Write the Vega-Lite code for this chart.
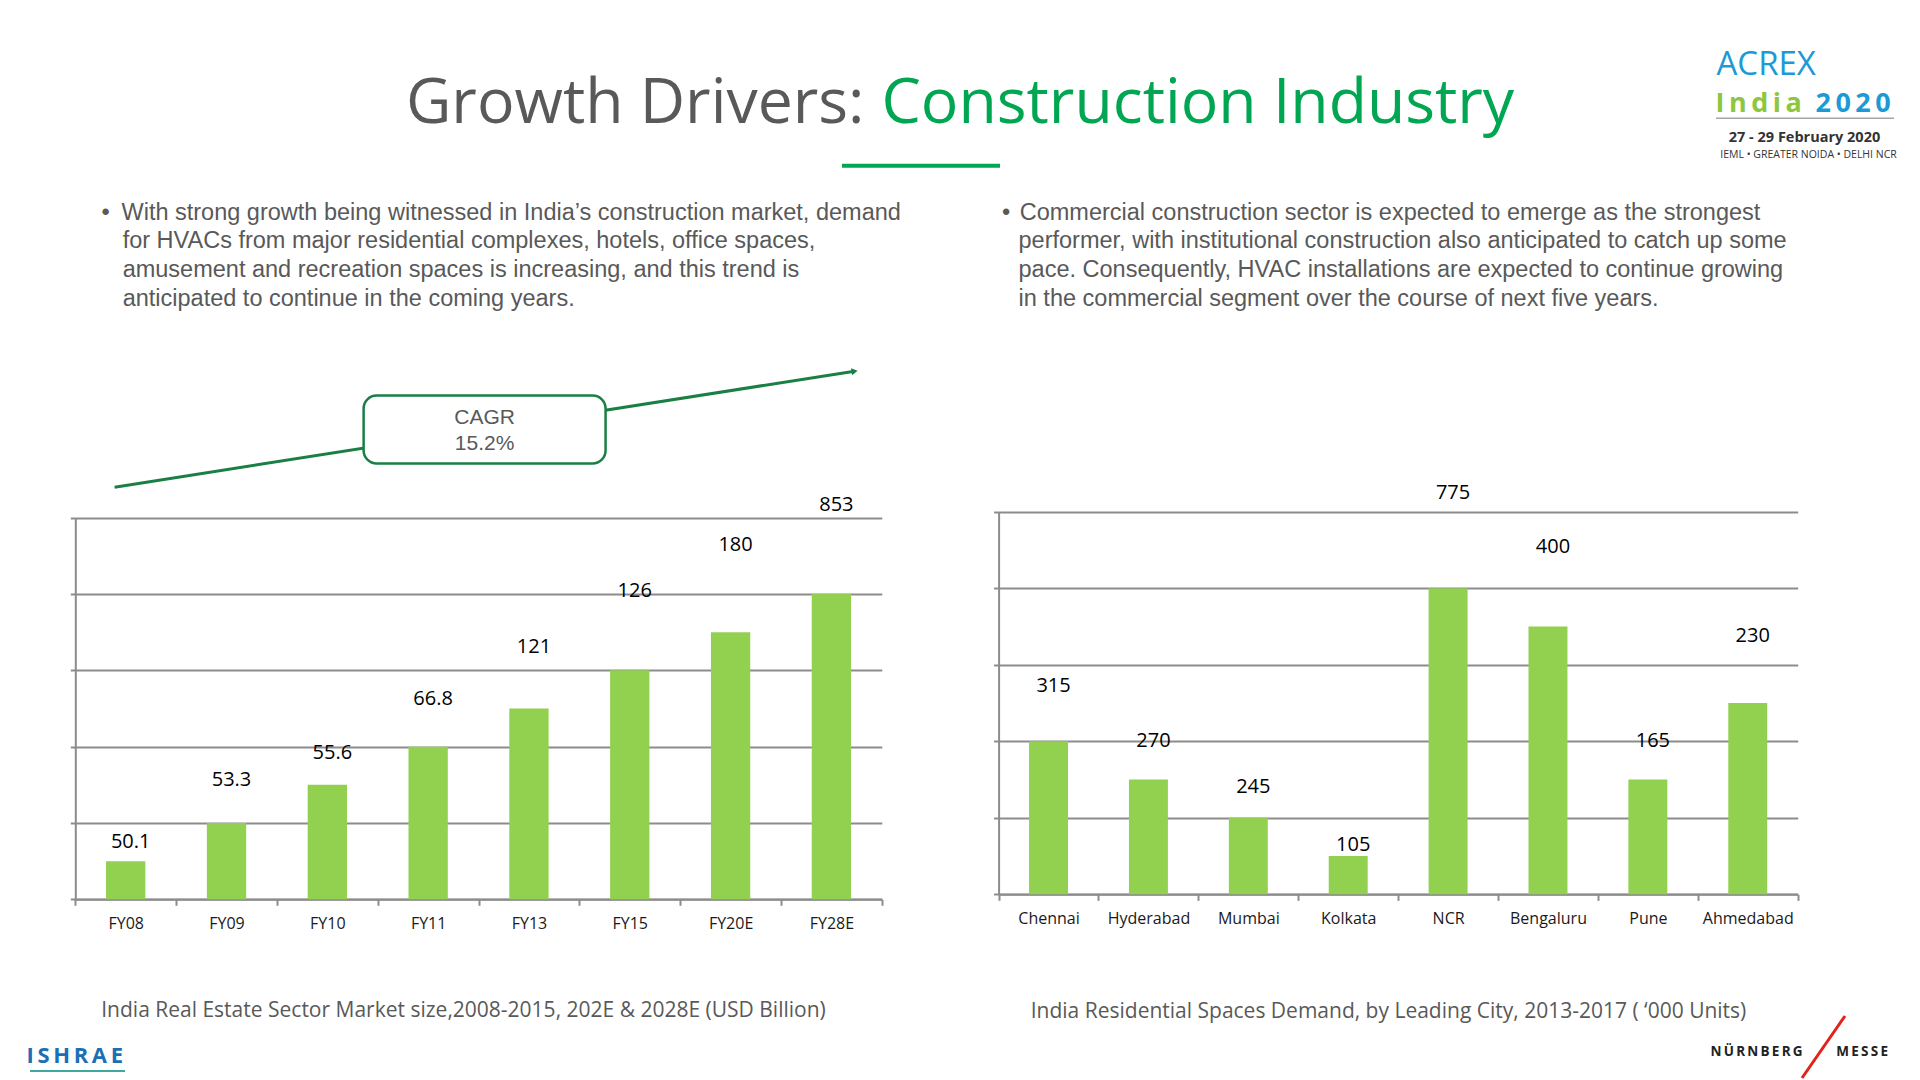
{
  "$schema": "https://vega.github.io/schema/vega-lite/v6.json",
  "width": 1920,
  "height": 1080,
  "autosize": {"type": "none"},
  "padding": 0,
  "background": "white",
  "config": {"view": {"stroke": null}, "axis": {"titleFontWeight": "normal", "titleLimit": 3000}},
  "resolve": {"scale": {"x": "independent", "y": "independent"}, "axis": {"x": "independent", "y": "independent"}},
  "layer": [
    {
      "data": {"values": [
        {"fiscal_year": "FY08", "bar_height": 0.5, "value_label": "50.1", "label_position": 0.75},
        {"fiscal_year": "FY09", "bar_height": 1.0, "value_label": "53.3", "label_position": 1.56},
        {"fiscal_year": "FY10", "bar_height": 1.5, "value_label": "55.6", "label_position": 1.92},
        {"fiscal_year": "FY11", "bar_height": 2.0, "value_label": "66.8", "label_position": 2.63},
        {"fiscal_year": "FY13", "bar_height": 2.5, "value_label": "121", "label_position": 3.30},
        {"fiscal_year": "FY15", "bar_height": 3.0, "value_label": "126", "label_position": 4.04},
        {"fiscal_year": "FY20E", "bar_height": 3.5, "value_label": "180", "label_position": 4.64},
        {"fiscal_year": "FY28E", "bar_height": 4.0, "value_label": "853", "label_position": 5.17}
      ]},
      "resolve": {"axis": {"y": "independent"}},
      "encoding": {
        "x": {
          "field": "fiscal_year", "type": "nominal", "sort": null,
          "scale": {"domain": ["FY08", "FY09", "FY10", "FY11", "FY13", "FY15", "FY20E", "FY28E"], "range": [75.3, 881.8], "paddingInner": 0, "paddingOuter": 0},
          "axis": {
            "orient": "bottom", "offset": -180.7, "tickBand": "extent", "tickSize": 6, "tickColor": "#8C8C8C", "tickWidth": 2,
            "domainColor": "#8C8C8C", "domainWidth": 2, "grid": false,
            "labelFont": "Open Sans", "labelFontSize": 16, "labelColor": "#1A1A1A", "labelPadding": 10, "labelAngle": 0,
            "title": "India Real Estate Sector Market size,2008-2015, 202E & 2028E (USD Billion)",
            "titleX": 463, "titleY": 110.7, "titleAlign": "center", "titleBaseline": "middle",
            "titleFont": "Open Sans", "titleFontSize": 21, "titleColor": "#595959"
          }
        }
      },
      "layer": [
        {
          "mark": {"type": "bar", "color": "#92D050", "width": {"band": 0.39}},
          "encoding": {
            "y": {
              "field": "bar_height", "type": "quantitative",
              "scale": {"domain": [0, 5], "range": [899.3, 517.7], "nice": false, "zero": true},
              "axis": {
                "orient": "left", "offset": -75.3, "values": [0, 1, 2, 3, 4, 5],
                "grid": true, "gridColor": "#8C8C8C", "gridWidth": 2,
                "domain": true, "domainColor": "#8C8C8C", "domainWidth": 2,
                "ticks": true, "tickSize": 5, "tickColor": "#8C8C8C", "tickWidth": 2, "labels": false,
                "title": [
                  "•\u2002With strong growth being witnessed in India’s construction market, demand",
                  "\u200B\u2002\u2009\u2009for HVACs from major residential complexes, hotels, office spaces,",
                  "\u200B\u2002\u2009\u2009amusement and recreation spaces is increasing, and this trend is",
                  "\u200B\u2002\u2009\u2009anticipated to continue in the coming years."
                ],
                "titleX": 25.7, "titleY": 219.3, "titleAngle": 0, "titleAlign": "left", "titleBaseline": "alphabetic",
                "titleFont": "Liberation Sans", "titleFontSize": 23.5, "titleColor": "#595959", "titleLineHeight": 28.7
              }
            }
          }
        },
        {
          "mark": {"type": "text", "font": "Open Sans", "fontSize": 20, "color": "#000000", "align": "center", "baseline": "middle", "dx": 5},
          "encoding": {
            "y": {"field": "label_position", "type": "quantitative", "scale": {"domain": [0, 5], "range": [899.3, 517.7], "nice": false, "zero": true}, "axis": null},
            "text": {"field": "value_label"}
          }
        }
      ]
    },
    {
      "data": {"values": [
        {"city": "Chennai", "bar_height": 2.0, "value_label": "315", "label_position": 2.72},
        {"city": "Hyderabad", "bar_height": 1.5, "value_label": "270", "label_position": 2.0},
        {"city": "Mumbai", "bar_height": 1.0, "value_label": "245", "label_position": 1.40},
        {"city": "Kolkata", "bar_height": 0.5, "value_label": "105", "label_position": 0.64},
        {"city": "NCR", "bar_height": 4.0, "value_label": "775", "label_position": 5.24},
        {"city": "Bengaluru", "bar_height": 3.5, "value_label": "400", "label_position": 4.54},
        {"city": "Pune", "bar_height": 1.5, "value_label": "165", "label_position": 2.0},
        {"city": "Ahmedabad", "bar_height": 2.5, "value_label": "230", "label_position": 3.38}
      ]},
      "resolve": {"axis": {"y": "independent"}},
      "encoding": {
        "x": {
          "field": "city", "type": "nominal", "sort": null,
          "scale": {"domain": ["Chennai", "Hyderabad", "Mumbai", "Kolkata", "NCR", "Bengaluru", "Pune", "Ahmedabad"], "range": [998.6, 1797.7], "paddingInner": 0, "paddingOuter": 0},
          "axis": {
            "orient": "bottom", "offset": -185.7, "tickBand": "extent", "tickSize": 6, "tickColor": "#8C8C8C", "tickWidth": 2,
            "domainColor": "#8C8C8C", "domainWidth": 2, "grid": false,
            "labelFont": "Open Sans", "labelFontSize": 16, "labelColor": "#1A1A1A", "labelPadding": 10, "labelAngle": 0,
            "title": "India Residential Spaces Demand, by Leading City, 2013-2017 ( ‘000 Units)",
            "titleX": 1388, "titleY": 116.7, "titleAlign": "center", "titleBaseline": "middle",
            "titleFont": "Open Sans", "titleFontSize": 21, "titleColor": "#595959"
          }
        }
      },
      "layer": [
        {
          "mark": {"type": "bar", "color": "#92D050", "width": {"band": 0.39}},
          "encoding": {
            "y": {
              "field": "bar_height", "type": "quantitative",
              "scale": {"domain": [0, 5], "range": [894.3, 511.7], "nice": false, "zero": true},
              "axis": {
                "orient": "left", "offset": -998.6, "values": [0, 1, 2, 3, 4, 5],
                "grid": true, "gridColor": "#8C8C8C", "gridWidth": 2,
                "domain": true, "domainColor": "#8C8C8C", "domainWidth": 2,
                "ticks": true, "tickSize": 5, "tickColor": "#8C8C8C", "tickWidth": 2, "labels": false,
                "title": [
                  "•\u2009\u2009Commercial construction sector is expected to emerge as the strongest",
                  "\u200B\u2002\u2009performer, with institutional construction also anticipated to catch up some",
                  "\u200B\u2002\u2009pace. Consequently, HVAC installations are expected to continue growing",
                  "\u200B\u2002\u2009in the commercial segment over the course of next five years."
                ],
                "titleX": 3, "titleY": 219.3, "titleAngle": 0, "titleAlign": "left", "titleBaseline": "alphabetic",
                "titleFont": "Liberation Sans", "titleFontSize": 23.5, "titleColor": "#595959", "titleLineHeight": 28.7
              }
            }
          }
        },
        {
          "mark": {"type": "text", "font": "Open Sans", "fontSize": 20, "color": "#000000", "align": "center", "baseline": "middle", "dx": 5},
          "encoding": {
            "y": {"field": "label_position", "type": "quantitative", "scale": {"domain": [0, 5], "range": [894.3, 511.7], "nice": false, "zero": true}, "axis": null},
            "text": {"field": "value_label"}
          }
        }
      ]
    },
    {
      "data": {"values": [{"annotation": "CAGR\n15.2%"}]},
      "layer": [
        {
          "mark": {"type": "rule", "color": "#1A7F45", "strokeWidth": 3},
          "encoding": {
            "x": {
              "datum": 0.39, "type": "quantitative", "scale": {"domain": [0, 8], "range": [75.3, 881.8], "nice": false, "zero": false},
              "axis": {"orient": "top", "offset": 0, "domain": false, "ticks": false, "labels": false, "grid": false,
                "title": "Growth Drivers:", "titleX": 864, "titleY": 122, "titleAlign": "right", "titleBaseline": "alphabetic", "titleAngle": 0,
                "titleFont": "Open Sans", "titleFontSize": 62.5, "titleColor": "#595959"}
            },
            "x2": {"datum": 7.73},
            "y": {
              "datum": 5.40, "type": "quantitative", "scale": {"domain": [0, 5], "range": [899.3, 517.7], "nice": false, "zero": false},
              "axis": {"orient": "left", "offset": 0, "domain": false, "ticks": false, "labels": false, "grid": false,
                "title": "Construction Industry", "titleX": 881, "titleY": 122, "titleAlign": "left", "titleBaseline": "alphabetic", "titleAngle": 0,
                "titleFont": "Open Sans", "titleFontSize": 62.5, "titleColor": "#00A651"}
            },
            "y2": {"datum": 6.92}
          }
        },
        {
          "mark": {"type": "point", "shape": "triangle-right", "filled": true, "color": "#1A7F45", "size": 50, "angle": 351, "opacity": 1},
          "encoding": {"x": {"datum": 7.73}, "y": {"datum": 6.92}}
        },
        {
          "mark": {"type": "rect", "fill": "white", "stroke": "#1A7F45", "strokeWidth": 2.5, "cornerRadius": 13},
          "encoding": {"x": {"datum": 2.86}, "x2": {"datum": 5.26}, "y": {"datum": 5.71}, "y2": {"datum": 6.60}}
        },
        {
          "mark": {"type": "text", "font": "Liberation Sans", "fontSize": 21, "color": "#595959", "lineBreak": "\n", "lineHeight": 26, "align": "center", "baseline": "middle"},
          "encoding": {"x": {"datum": 4.06}, "y": {"datum": 6.30}, "text": {"field": "annotation"}}
        }
      ]
    },
    {
      "data": {"values": [{"element": "title underline"}]},
      "mark": {"type": "rule", "color": "#00A651", "strokeWidth": 4},
      "encoding": {
        "x": {
          "datum": 0, "type": "quantitative", "scale": {"domain": [0, 1], "range": [842, 1000], "nice": false, "zero": false},
          "axis": {"orient": "top", "offset": 0, "domain": false, "ticks": false, "labels": false, "grid": false,
            "title": "27 - 29 February 2020", "titleX": 1804, "titleY": 141.7, "titleAlign": "center", "titleBaseline": "alphabetic", "titleAngle": 0,
            "titleFont": "Open Sans", "titleFontSize": 14.5, "titleFontWeight": "bold", "titleColor": "#333333"}
        },
        "x2": {"datum": 1},
        "y": {
          "datum": 0, "type": "quantitative", "scale": {"domain": [0, 1], "range": [165.7, 0], "nice": false, "zero": false},
          "axis": {"orient": "left", "offset": 0, "domain": false, "ticks": false, "labels": false, "grid": false,
            "title": "IEML • GREATER NOIDA • DELHI NCR", "titleX": 1808, "titleY": 157, "titleAlign": "center", "titleBaseline": "alphabetic", "titleAngle": 0,
            "titleFont": "Open Sans", "titleFontSize": 10.5, "titleColor": "#333333"}
        }
      }
    },
    {
      "data": {"values": [{"element": "NürnbergMesse slash"}]},
      "mark": {"type": "rule", "color": "#E2231A", "strokeWidth": 3},
      "encoding": {
        "x": {
          "datum": 0, "type": "quantitative", "scale": {"domain": [0, 1], "range": [1802, 1845], "nice": false, "zero": false},
          "axis": {"orient": "top", "offset": 0, "domain": false, "ticks": false, "labels": false, "grid": false,
            "title": "I\u2009S\u2009H\u2009R\u2009A\u2009E", "titleX": 26, "titleY": 1062, "titleAlign": "left", "titleBaseline": "alphabetic", "titleAngle": 0,
            "titleFont": "Open Sans", "titleFontSize": 22, "titleFontWeight": "bold", "titleColor": "#1B6FB5"}
        },
        "x2": {"datum": 1},
        "y": {
          "datum": 0, "type": "quantitative", "scale": {"domain": [0, 1], "range": [1078, 1016], "nice": false, "zero": false},
          "axis": {"orient": "left", "offset": 0, "domain": false, "ticks": false, "labels": false, "grid": false,
            "title": "N\u2009Ü\u2009R\u2009N\u2009B\u2009E\u2009R\u2009G\u2003\u2003\u2002M\u2009E\u2009S\u2009S\u2009E", "titleX": 1710, "titleY": 1055, "titleAlign": "left", "titleBaseline": "alphabetic", "titleAngle": 0,
            "titleFont": "Open Sans", "titleFontSize": 13.5, "titleFontWeight": "bold", "titleColor": "#222222"}
        },
        "y2": {"datum": 1}
      }
    },
    {
      "data": {"values": [{"element": "ACREX separator"}]},
      "mark": {"type": "rule", "color": "#A6A6A6", "strokeWidth": 1.5},
      "encoding": {
        "x": {
          "datum": 0, "type": "quantitative", "scale": {"domain": [0, 1], "range": [1716, 1894], "nice": false, "zero": false},
          "axis": {"orient": "top", "offset": 0, "domain": false, "ticks": false, "labels": false, "grid": false,
            "title": "ACREX", "titleX": 1716, "titleY": 74, "titleAlign": "left", "titleBaseline": "alphabetic", "titleAngle": 0,
            "titleFont": "Open Sans", "titleFontSize": 33, "titleColor": "#1C9AD6"}
        },
        "x2": {"datum": 1},
        "y": {
          "datum": 0, "type": "quantitative", "scale": {"domain": [0, 1], "range": [118.3, 0], "nice": false, "zero": false},
          "axis": {"orient": "left", "offset": 0, "domain": false, "ticks": false, "labels": false, "grid": false,
            "title": "I\u2009n\u2009d\u2009i\u2009a", "titleX": 1715, "titleY": 111, "titleAlign": "left", "titleBaseline": "alphabetic", "titleAngle": 0,
            "titleFont": "Open Sans", "titleFontSize": 27, "titleFontWeight": "bold", "titleColor": "#8DC63F"}
        }
      }
    },
    {
      "data": {"values": [{"element": "ISHRAE swoosh"}]},
      "mark": {"type": "rule", "color": "#3FA9A0", "strokeWidth": 2},
      "encoding": {
        "x": {
          "datum": 0, "type": "quantitative", "scale": {"domain": [0, 1], "range": [30, 125], "nice": false, "zero": false},
          "axis": {"orient": "top", "offset": 0, "domain": false, "ticks": false, "labels": false, "grid": false,
            "title": "2\u20090\u20092\u20090", "titleX": 1815, "titleY": 111, "titleAlign": "left", "titleBaseline": "alphabetic", "titleAngle": 0,
            "titleFont": "Open Sans", "titleFontSize": 27, "titleFontWeight": "bold", "titleColor": "#1C9AD6"}
        },
        "x2": {"datum": 1},
        "y": {"datum": 0, "type": "quantitative", "scale": {"domain": [0, 1], "range": [1071, 0], "nice": false, "zero": false}, "axis": null}
      }
    }
  ]
}
